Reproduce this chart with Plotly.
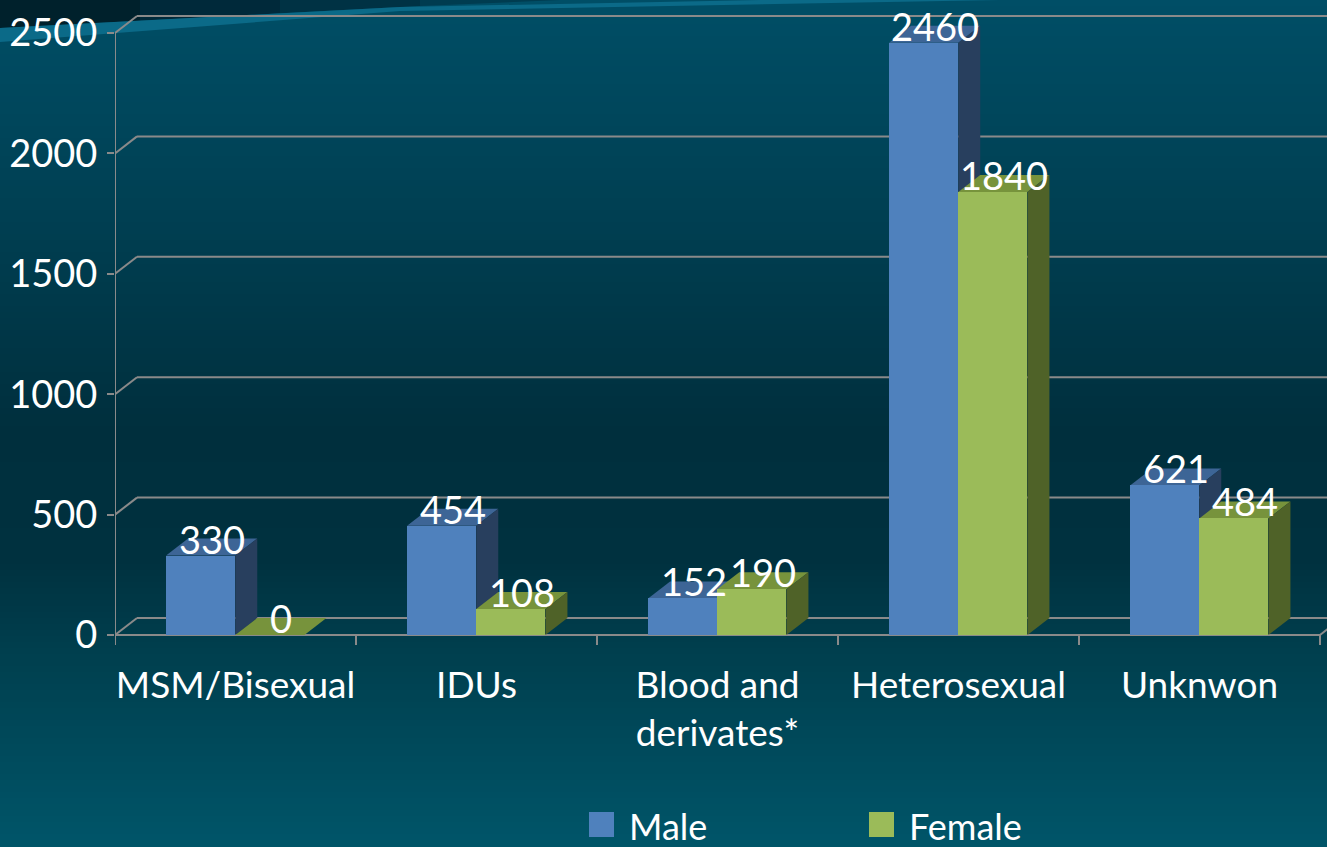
import plotly.graph_objects as go

# ---------------- data ----------------
categories = ["MSM/Bisexual", "IDUs", "Blood and<br>derivates*", "Heterosexual", "Unknwon"]
male = [330, 454, 152, 2460, 621]
female = [0, 108, 190, 1840, 484]
y_ticks = [0, 500, 1000, 1500, 2000, 2500]
series_names = ["Male", "Female"]

# ---------------- styling / geometry ----------------
W, H = 1327, 847
ML, MT, PW, PH = 115, 0, 1212, 660            # plot area in pixels
CAT_PX = 241.0                                 # pixels per category
X_MAX = PW / CAT_PX
PX_PER_UNIT = 602.0 / 2500.0                   # y pixels per data unit
Y_MIN = -(PH - 635) / PX_PER_UNIT
Y_MAX = 2500 + 33 / PX_PER_UNIT
DX = 22 / CAT_PX                               # depth offset (x, data units)
DY = 17 / PX_PER_UNIT                          # depth offset (y, data units)
BAR_W = 0.287
OFF = [0.212 + BAR_W / 2, 0.499 + BAR_W / 2]

FRONT = ["#4F81BD", "#9BBB59"]
TOP = ["#3D6596", "#77933C"]
SIDE = ["#283F5E", "#4F6228"]
GRID = "#8A8A8A"
FONT = "Lato"


def px_to_paper(px, py):
    return (px - ML) / PW, (MT + PH - py) / PH


def hexmix(c1, c2, t):
    a = [int(c1[i:i + 2], 16) for i in (1, 3, 5)]
    b = [int(c2[i:i + 2], 16) for i in (1, 3, 5)]
    return "#%02x%02x%02x" % tuple(round(a[k] + (b[k] - a[k]) * t) for k in range(3))


shapes = []

# background vertical gradient (bands)
stops = [(0, "#004e66"), (120, "#00465b"), (300, "#00394a"), (430, "#002f3d"),
         (560, "#00313f"), (660, "#00404f"), (847, "#005569")]
band = 6
for y0 in range(0, H, band):
    yc = y0 + band / 2
    for (a, ca), (b, cb) in zip(stops[:-1], stops[1:]):
        if a <= yc <= b:
            col = hexmix(ca, cb, (yc - a) / (b - a))
            break
    x0p, y0p = px_to_paper(0, y0)
    x1p, y1p = px_to_paper(W, y0 + band + 1)
    shapes.append(dict(type="rect", xref="paper", yref="paper", x0=x0p, x1=x1p,
                       y0=y1p, y1=y0p, fillcolor=col, line_width=0, layer="below"))

# dark top-left corner and light diagonal streak
def ppath(pts):
    s = ""
    for i, (x, y) in enumerate(pts):
        xp, yp = px_to_paper(x, y)
        s += ("M" if i == 0 else "L") + f"{xp},{yp} "
    return s + "Z"

corner_cols = ["#00212c", "#00293a", "#003244", "#003c50", "#00465c"]
for i, c in enumerate(corner_cols):
    x_end = 140 * (i + 1)
    shapes.append(dict(type="path", xref="paper", yref="paper", layer="below",
                       path=ppath([(x_end - 140, 0), (x_end, 0),
                                   (x_end, max(0, 28 - 21 * x_end / 400)),
                                   (x_end - 140, max(0, 28 - 21 * (x_end - 140) / 400))]),
                       fillcolor=c, line_width=0))
shapes.append(dict(type="path", xref="paper", yref="paper", layer="below",
                   path=ppath([(0, 28), (400, 7), (760, 0), (1000, 0), (400, 11), (0, 42)]),
                   fillcolor="#0b6a88", line_width=0))

# back wall grid lines with diagonal connectors
for v in y_ticks:
    shapes.append(dict(type="line", xref="x", yref="y", x0=DX, x1=X_MAX + 1,
                       y0=v + DY, y1=v + DY, line=dict(color=GRID, width=2), layer="below"))
    shapes.append(dict(type="line", xref="x", yref="y", x0=0, x1=DX,
                       y0=v, y1=v + DY, line=dict(color=GRID, width=2), layer="below"))
# front floor edge, right floor edge, category ticks, vertical axis line
n = len(categories)
shapes.append(dict(type="line", xref="x", yref="y", x0=0, x1=n, y0=0, y1=0,
                   line=dict(color=GRID, width=2), layer="below"))
shapes.append(dict(type="line", xref="x", yref="y", x0=n, x1=n + DX, y0=0, y1=DY,
                   line=dict(color=GRID, width=2), layer="below"))
for i in range(n + 1):
    shapes.append(dict(type="line", xref="x", yref="y", x0=i, x1=i, y0=0,
                       y1=-10 / PX_PER_UNIT, line=dict(color=GRID, width=2), layer="below"))
shapes.append(dict(type="line", xref="x", yref="y", x0=0, x1=0, y0=-10 / PX_PER_UNIT,
                   y1=2500, line=dict(color=GRID, width=2), layer="below"))

# 3D faces of bars (top and side), computed from data
annotations = []
for s, vals in enumerate([male, female]):
    for i, v in enumerate(vals):
        xl = i + OFF[s] - BAR_W / 2
        xr = i + OFF[s] + BAR_W / 2
        top = f"M{xl},{v} L{xr},{v} L{xr + DX},{v + DY} L{xl + DX},{v + DY} Z"
        shapes.append(dict(type="path", xref="x", yref="y", path=top,
                           fillcolor=TOP[s], line_width=0, layer="below"))
        if v > 0:
            side = f"M{xr},0 L{xr},{v} L{xr + DX},{v + DY} L{xr + DX},{DY} Z"
            shapes.append(dict(type="path", xref="x", yref="y", path=side,
                               fillcolor=SIDE[s], line_width=0, layer="below"))
        annotations.append(dict(x=i + OFF[s] + DX / 2, y=v + DY, xref="x", yref="y",
                                text=str(v), showarrow=False, yanchor="middle",
                                xanchor="center",
                                font=dict(family=FONT, size=38, color="white")))

# legend (manual)
leg = [(589, 812), (869, 812)]
for s, (lx, ly) in enumerate(leg):
    x0p, y0p = px_to_paper(lx, ly)
    x1p, y1p = px_to_paper(lx + 25, ly + 25)
    shapes.append(dict(type="rect", xref="paper", yref="paper", x0=x0p, x1=x1p,
                       y0=y1p, y1=y0p, fillcolor=FRONT[s], line_width=0))
    tx, ty = px_to_paper(lx + 38, ly + 14)
    annotations.append(dict(x=tx, y=ty, xref="paper", yref="paper", text=series_names[s],
                            showarrow=False, xanchor="left", yanchor="middle",
                            font=dict(family=FONT, size=36, color="white")))

fig = go.Figure()
for s, vals in enumerate([male, female]):
    fig.add_trace(go.Bar(x=[i + OFF[s] for i in range(n)], y=vals, width=BAR_W,
                         name=series_names[s], marker=dict(color=FRONT[s], line_width=0),
                         showlegend=False, hoverinfo="y+name"))

fig.update_layout(
    width=W, height=H, autosize=False,
    margin=dict(l=ML, r=W - ML - PW, t=MT, b=H - MT - PH, pad=0),
    paper_bgcolor="#003a4b", plot_bgcolor="rgba(0,0,0,0)",
    barmode="overlay", bargap=0,
    shapes=shapes, annotations=annotations,
    font=dict(family=FONT, color="white"),
    xaxis=dict(range=[0, X_MAX], tickvals=[i + 0.5 for i in range(n)],
               ticktext=categories, showgrid=False, zeroline=False, showline=False,
               ticks="", tickfont=dict(family=FONT, size=37, color="white"),
               fixedrange=True),
    yaxis=dict(range=[Y_MIN, Y_MAX], tickvals=y_ticks, showgrid=False, zeroline=False,
               showline=False, ticks="outside", ticklen=7, tickwidth=2, tickcolor=GRID,
               ticklabelstandoff=2,
               tickfont=dict(family=FONT, size=38, color="white"), fixedrange=True),
)

fig.write_html("out.html", config={"displayModeBar": False},
               post_script="document.body.style.margin='0';document.body.style.overflow='hidden';")
